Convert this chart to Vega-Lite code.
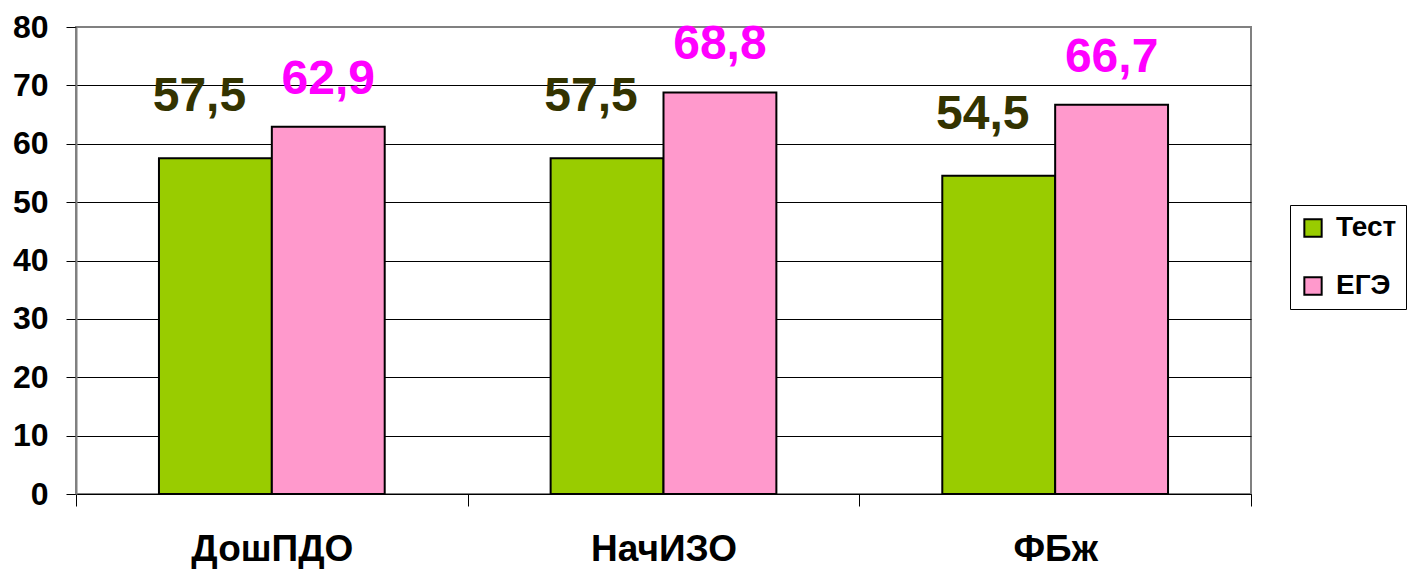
{
  "$schema": "https://vega.github.io/schema/vega-lite/v6.json",
  "width": 1175,
  "height": 467,
  "autosize": "none",
  "padding": {"left": 76, "top": 27, "right": 158, "bottom": 80},
  "background": "white",
  "config": {
    "font": "Liberation Sans",
    "view": {"stroke": "#808080", "strokeWidth": 2},
    "locale": {"number": {"decimal": ",", "thousands": " ", "grouping": [3], "currency": ["", ""]}}
  },
  "data": {
    "values": [
      {"cat": "ДошПДО", "series": "Тест", "value": 57.5},
      {"cat": "ДошПДО", "series": "ЕГЭ", "value": 62.9},
      {"cat": "НачИЗО", "series": "Тест", "value": 57.5},
      {"cat": "НачИЗО", "series": "ЕГЭ", "value": 68.8},
      {"cat": "ФБж", "series": "Тест", "value": 54.5},
      {"cat": "ФБж", "series": "ЕГЭ", "value": 66.7}
    ]
  },
  "encoding": {
    "x": {
      "field": "cat", "type": "nominal", "sort": ["ДошПДО", "НачИЗО", "ФБж"],
      "scale": {"paddingInner": 0, "paddingOuter": 0},
      "axis": {
        "title": null, "labelAngle": 0, "labelFont": "Liberation Sans", "labelFontWeight": "bold",
        "labelFontSize": 37, "labelColor": "black", "tickBand": "extent", "tickSize": 12,
        "tickColor": "black", "domainColor": "black", "labelPadding": 25, "labelBaseline": "top"
      }
    },
    "xOffset": {
      "field": "series", "type": "nominal", "sort": ["Тест", "ЕГЭ"],
      "scale": {"paddingInner": 0, "paddingOuter": 0.735}
    },
    "y": {
      "field": "value", "type": "quantitative",
      "scale": {"domain": [0, 80], "nice": false},
      "axis": {
        "title": null, "values": [0, 10, 20, 30, 40, 50, 60, 70, 80],
        "labelFontSize": 32, "labelFontWeight": "bold", "labelColor": "black",
        "labelPadding": 18, "tickSize": 10, "tickColor": "black",
        "domainColor": "#808080", "domainWidth": 2,
        "grid": true,
        "gridColor": {"condition": {"test": "datum.value === 80", "value": "#808080"}, "value": "black"},
        "gridWidth": 1.2, "gridOpacity": 1
      }
    }
  },
  "layer": [
    {
      "mark": {"type": "bar", "stroke": "black", "strokeWidth": 2},
      "encoding": {
        "color": {
          "field": "series", "type": "nominal",
          "scale": {"domain": ["Тест", "ЕГЭ"], "range": ["#99CC00", "#FF99CC"]},
          "legend": {
            "title": null, "orient": "none", "legendX": 1214, "legendY": 178,
            "strokeColor": "black", "padding": 9, "fillColor": "white",
            "labelFontSize": 28, "labelFontWeight": "bold", "labelColor": "black",
            "symbolType": "square", "symbolSize": 300, "symbolStrokeColor": "black",
            "symbolStrokeWidth": 2, "symbolOpacity": 1, "rowPadding": 30, "labelOffset": 9
          }
        }
      }
    },
    {
      "transform": [{"filter": "datum.series === 'Тест'"}],
      "mark": {"type": "text", "fontSize": 48, "fontWeight": "bold", "color": "#333300", "baseline": "alphabetic", "dx": -16, "dy": -47},
      "encoding": {"text": {"field": "value", "type": "quantitative", "format": ".1f"}}
    },
    {
      "transform": [{"filter": "datum.series === 'ЕГЭ'"}],
      "mark": {"type": "text", "fontSize": 48, "fontWeight": "bold", "color": "#FF00FF", "baseline": "alphabetic", "dx": 0, "dy": -33},
      "encoding": {"text": {"field": "value", "type": "quantitative", "format": ".1f"}}
    }
  ]
}
